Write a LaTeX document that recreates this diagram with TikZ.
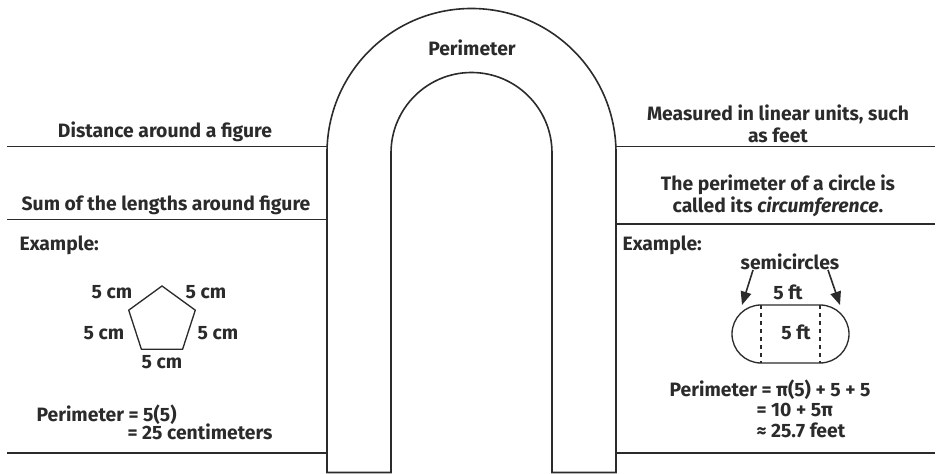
\documentclass[tikz,border=0pt]{standalone}
\usepackage{fontspec}
\setmainfont{Fira Sans}
\usetikzlibrary{arrows.meta,positioning}
\definecolor{pen}{HTML}{2B2B2B}
\tikzset{rule/.style={draw=pen,line width=1.2pt},archline/.style={draw=pen,line width=1.2pt},notetext/.style={text=pen,font=\fontsize{14.5}{16.5}\selectfont\bfseries,inner sep=1pt,align=center},eqtext/.style={notetext,anchor=west,align=left},pointer/.style={draw=pen,line width=1.2pt,-{Triangle[length=10pt,width=8pt]}}}
\begin{document}
\begin{tikzpicture}[x=.75pt,y=.75pt]
\useasboundingbox (0,0) rectangle (940,474);
\draw[archline] (327,1.5) -- (327,321) arc (180:0:144.5) -- (616,1.5) -- (552,1.5) -- (552,321) arc (0:180:80.5) -- (391,1.5) -- cycle;
\node[notetext] (perim) at (472,426) {Perimeter};
\draw[rule] (7,327.5) -- (327,327.5);\draw[rule] (7,254.5) -- (327,254.5);\draw[rule] (7,21) -- (327,21);
\draw[rule] (616,327.5) -- (935,327.5);\draw[rule] (616,250) -- (935,250);\draw[rule] (616,21) -- (935,21);
\node[notetext] (dist) at (165,342) {Distance around a figure};
\node[notetext] (sum) at (166,269) {Sum of the lengths around figure};
\node[notetext,anchor=west] (exl) at (18,229) {Example:};
\draw[rule,line width=1pt] (162,153) +(90:35) -- +(162:35) -- +(234:35) -- +(306:35) -- +(18:35) -- cycle;
\node[notetext] (cmul) at (112,182) {5 cm};\node[notetext] (cmur) at (206,182) {5 cm};
\node[notetext] (cml) at (104,141) {5 cm};\node[notetext] (cmr) at (218,141) {5 cm};
\node[notetext] (cmb) at (162,112) {5 cm};
\node[eqtext] (pl1) at (35,59) {Perimeter = 5(5)};
\node[eqtext] (pl2) at (126,42) {= 25 centimeters};
\node[notetext] (meas) at (778,350) {Measured in linear units, such\\as feet};
\node[notetext] (circ) at (778,278) {The perimeter of a circle is\\called its \emph{circumference}.};
\node[notetext,anchor=west] (exr) at (621,229) {Example:};
\node[notetext] (semi) at (790,212) {semicircles};
\draw[rule,line width=1pt] (761,169) -- (820,169) arc (90:-90:29) -- (761,111) arc (270:90:29) -- cycle;
\draw[rule,line width=1pt,dashed] (761,169) -- (761,111);\draw[rule,line width=1pt,dashed] (820,169) -- (820,111);
\node[notetext] (ftop) at (788,182) {5 ft};
\node[notetext] (fin) at (796,142) {5 ft};
\coordinate (la) at (753,204);\coordinate (lt) at (742,169);
\coordinate (ra) at (828,204);\coordinate (rt) at (840,169);
\draw[pointer] (la) -- (lt);\draw[pointer] (ra) -- (rt);
\node[eqtext] (pr1) at (668,84) {Perimeter = π(5) + 5 + 5};
\node[eqtext] (pr2) at (755,64) {= 10 + 5π};
\node[eqtext] (pr3) at (755,44) {≈ 25.7 feet};
\end{tikzpicture}
\end{document}
